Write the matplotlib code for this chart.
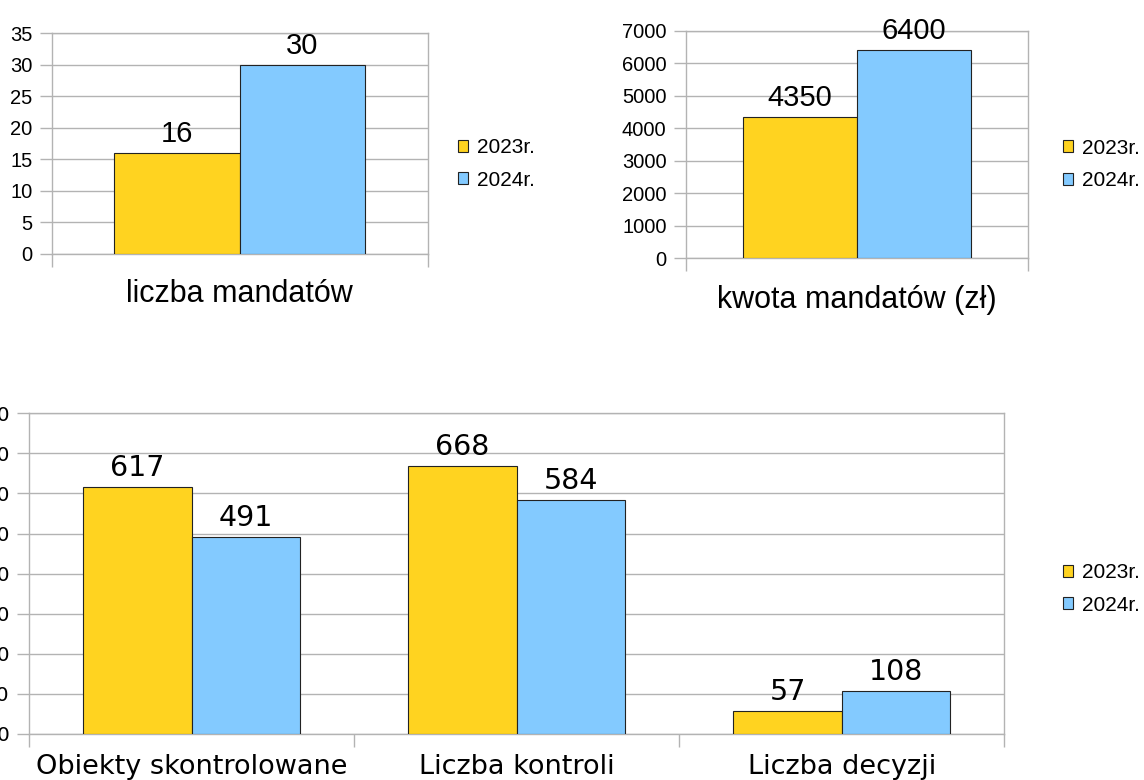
import matplotlib
matplotlib.use("Agg")
import matplotlib.pyplot as plt
from matplotlib.patches import Patch
import numpy as np

# --- data ---
series_names = ["2023r.", "2024r."]

fines_count_cat = ["liczba mandatów"]
fines_count_2023 = [16]
fines_count_2024 = [30]

fines_amount_cat = ["kwota mandatów (zł)"]
fines_amount_2023 = [4350]
fines_amount_2024 = [6400]

inspect_cat = ["Obiekty skontrolowane", "Liczba kontroli", "Liczba decyzji"]
inspect_2023 = [617, 668, 57]
inspect_2024 = [491, 584, 108]

YELLOW = "#FFD320"
BLUE = "#83CAFF"
GRID = "#b3b3b3"
EDGE = "#222222"

fig = plt.figure(figsize=(11.44, 7.80), dpi=100)
fig.patch.set_facecolor("white")


def draw(ax, cats, v1, v2, ymax, ystep, font, tick_fs, lab_fs, cat_fs, cat_pad):
    n = len(cats)
    x = np.arange(n)
    w = 1 / 3
    ax.bar(x - w / 2, v1, width=w, color=YELLOW, edgecolor=EDGE, linewidth=0.8, zorder=3)
    ax.bar(x + w / 2, v2, width=w, color=BLUE, edgecolor=EDGE, linewidth=0.8, zorder=3)
    for xi, a, b in zip(x, v1, v2):
        for xx, v in ((xi - w / 2, a), (xi + w / 2, b)):
            ax.annotate(f"{v}", (xx, v), xytext=(0, 8), textcoords="offset points",
                        ha="center", va="baseline", fontsize=lab_fs, family=font,
                        color="black", zorder=4)
    ax.set_xlim(-0.5, n - 0.5)
    ax.set_ylim(0, ymax)
    ax.set_yticks(np.arange(0, ymax + ystep / 2, ystep))
    ax.yaxis.grid(True, color=GRID, linewidth=1.0, zorder=0)
    ax.set_axisbelow(True)
    for s in ax.spines.values():
        s.set_color(GRID)
        s.set_linewidth(1.0)
    ax.set_xticks(x)
    ax.set_xticklabels(cats, fontsize=cat_fs, family=font)
    ax.set_xticks(np.arange(-0.5, n, 1.0), minor=True)
    ax.tick_params(axis="x", which="major", length=0, pad=cat_pad)
    ax.tick_params(axis="x", which="minor", length=9, color=GRID, width=1.0)
    ax.tick_params(axis="y", length=9, color=GRID, width=1.0, pad=5, labelsize=tick_fs)
    for t in ax.get_yticklabels():
        t.set_family(font)


def legend(ax, x, y, font):
    handles = [Patch(facecolor=YELLOW, edgecolor=EDGE, linewidth=0.8),
               Patch(facecolor=BLUE, edgecolor=EDGE, linewidth=0.8)]
    ax.legend(handles, series_names, loc="center left", bbox_to_anchor=(x, y),
              bbox_transform=fig.transFigure, frameon=False, borderpad=0,
              borderaxespad=0, handlelength=0.5, handleheight=0.5,
              handletextpad=0.4, labelspacing=0.65,
              prop={"family": font, "size": 15})


ax1 = fig.add_axes([0.0452, 0.6744, 0.3287, 0.2829])
draw(ax1, fines_count_cat, fines_count_2023, fines_count_2024, 35, 5,
     "Liberation Sans", 14.5, 21, 22, 18)
legend(ax1, 0.4003, 0.7900, "Liberation Sans")

ax2 = fig.add_axes([0.5997, 0.6688, 0.2989, 0.2918])
draw(ax2, fines_amount_cat, fines_amount_2023, fines_amount_2024, 7000, 1000,
     "Liberation Sans", 14.5, 21, 22, 19)
legend(ax2, 0.929, 0.7890, "Liberation Sans")

ax3 = fig.add_axes([0.0256, 0.0590, 0.8523, 0.4111])
draw(ax3, inspect_cat, inspect_2023, inspect_2024, 800, 100,
     "DejaVu Sans", 14.5, 20.5, 19.5, 14.5)
legend(ax3, 0.929, 0.2450, "Liberation Sans")

fig.savefig("out.png", dpi=100, facecolor="white")
